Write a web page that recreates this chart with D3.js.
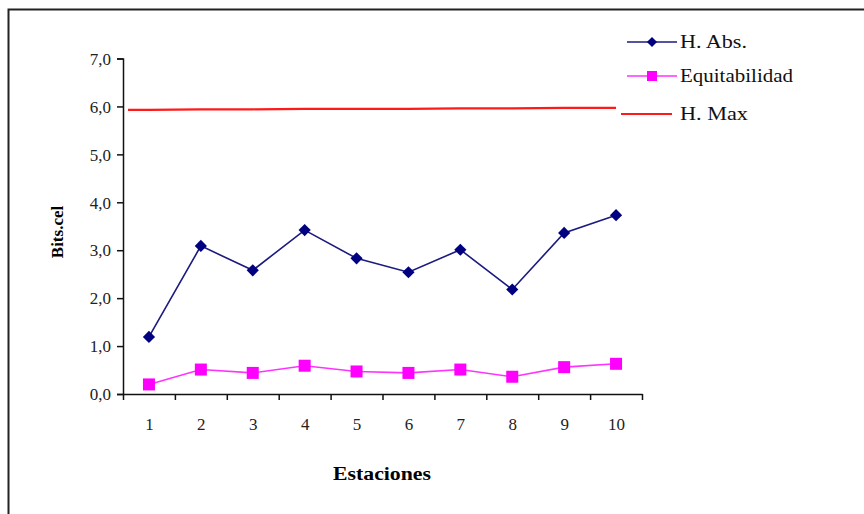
<!DOCTYPE html>
<html>
<head>
<meta charset="utf-8">
<script src="https://cdn.jsdelivr.net/npm/d3@7/dist/d3.min.js"></script>
<style>
  html, body { margin: 0; padding: 0; background: #fff; }
  svg { display: block; }
  text { font-family: "Liberation Serif", "Times New Roman", serif; }
</style>
</head>
<body>
<script>
// Stations sampled and diversity indices (bits per cell)
const stations = [1, 2, 3, 4, 5, 6, 7, 8, 9, 10];
const hAbs = [1.19, 3.09, 2.58, 3.42, 2.83, 2.54, 3.01, 2.18, 3.36, 3.73];
const equitabilidad = [0.20, 0.51, 0.44, 0.59, 0.47, 0.44, 0.51, 0.36, 0.56, 0.63];
const hMax = [5.93, 5.94, 5.94, 5.95, 5.95, 5.95, 5.96, 5.96, 5.97, 5.97];
const yTicks = [0, 1, 2, 3, 4, 5, 6, 7];
const seriesNames = ["H. Abs.", "Equitabilidad", "H. Max"];

const W = 864, H = 514;
const svg = d3.select("body").append("svg").attr("width", W).attr("height", H);

// Frame around the figure
svg.append("rect")
  .attr("x", 8.5).attr("y", 9.5)
  .attr("width", W + 10).attr("height", H + 10)
  .attr("fill", "none").attr("stroke", "#222").attr("stroke-width", 2);

const plotLeft = 123, plotRight = 642, plotTop = 58.5, plotBottom = 394;

const x = d3.scaleLinear().domain([0.5, stations.length + 0.5]).range([plotLeft, plotRight]);
const y = d3.scaleLinear().domain([0, 7]).range([plotBottom, plotTop]);

const fmt = d => d.toFixed(1).replace(".", ",");

// Y axis
const yAxis = svg.append("g")
  .attr("transform", `translate(${plotLeft},0)`)
  .call(d3.axisLeft(y).tickValues(yTicks).tickFormat(fmt).tickSize(6).tickPadding(6));
yAxis.select(".domain").attr("stroke", "#111").attr("stroke-width", 1.5);
yAxis.selectAll(".tick line").attr("stroke", "#111").attr("stroke-width", 1.5);
yAxis.selectAll("text").attr("font-size", 17).attr("fill", "#222")
  .attr("font-family", "Liberation Serif").attr("dy", "0.34em");

// X axis: boundary ticks between stations
const xAxis = svg.append("g")
  .attr("transform", `translate(0,${plotBottom})`)
  .call(d3.axisBottom(x)
    .tickValues(d3.range(0.5, stations.length + 1, 1))
    .tickFormat("").tickSize(6).tickSizeOuter(0));
xAxis.select(".domain").attr("stroke", "#111").attr("stroke-width", 1.5);
xAxis.selectAll(".tick line").attr("stroke", "#111").attr("stroke-width", 1.5);

// X axis: station labels centred in each slot
const xLabels = svg.append("g")
  .attr("transform", `translate(0,${plotBottom})`)
  .call(d3.axisBottom(x).tickValues(stations).tickFormat(d3.format("d")).tickSize(0).tickPadding(24));
xLabels.select(".domain").remove();
xLabels.selectAll("text").attr("font-size", 17).attr("fill", "#222")
  .attr("font-family", "Liberation Serif");

// Axis titles
svg.append("text")
  .attr("x", 382).attr("y", 480)
  .attr("text-anchor", "middle")
  .attr("font-size", 18).attr("font-weight", "bold")
  .attr("textLength", 98).attr("lengthAdjust", "spacingAndGlyphs")
  .text("Estaciones");

svg.append("text")
  .attr("transform", "translate(63,232) rotate(-90)")
  .attr("text-anchor", "middle")
  .attr("font-size", 17).attr("font-weight", "bold")
  .text("Bits.cel");

// H. Max reference line
const hMaxLine = d3.line()
  .x((d, i) => i === 0 ? plotLeft + 5 : x(stations[i - 1]))
  .y(d => y(d));
const hMaxPts = [hMax[0]].concat(hMax);
svg.append("path")
  .datum(hMaxPts)
  .attr("d", hMaxLine)
  .attr("fill", "none").attr("stroke", "#ff1a1a").attr("stroke-width", 2.2);

const line = d3.line().x((d, i) => x(stations[i])).y(d => y(d));

// Equitabilidad series
svg.append("path")
  .datum(equitabilidad)
  .attr("d", line)
  .attr("fill", "none").attr("stroke", "#ff33ff").attr("stroke-width", 1.6);
svg.selectAll(".sq")
  .data(equitabilidad)
  .enter().append("rect")
  .attr("x", (d, i) => x(stations[i]) - 6)
  .attr("y", d => y(d) - 6)
  .attr("width", 12).attr("height", 12)
  .attr("fill", "#ff00ff");

// H. Abs. series
svg.append("path")
  .datum(hAbs)
  .attr("d", line)
  .attr("fill", "none").attr("stroke", "#1a1a80").attr("stroke-width", 1.6);
const diamond = d3.symbol().type(d3.symbolDiamond2).size(95);
svg.selectAll(".dm")
  .data(hAbs)
  .enter().append("path")
  .attr("d", diamond)
  .attr("transform", (d, i) => `translate(${x(stations[i])},${y(d)})`)
  .attr("fill", "#000080");

// Legend
const legendY = [42, 76, 114];
const lg = svg.append("g");
// H. Abs.
lg.append("line").attr("x1", 627).attr("x2", 677).attr("y1", legendY[0]).attr("y2", legendY[0])
  .attr("stroke", "#1a1a80").attr("stroke-width", 1.6);
lg.append("path").attr("d", d3.symbol().type(d3.symbolDiamond2).size(65))
  .attr("transform", `translate(652,${legendY[0]})`).attr("fill", "#000080");
// Equitabilidad
lg.append("line").attr("x1", 627).attr("x2", 677).attr("y1", legendY[1]).attr("y2", legendY[1])
  .attr("stroke", "#ff33ff").attr("stroke-width", 1.6);
lg.append("rect").attr("x", 647).attr("y", legendY[1] - 5).attr("width", 10).attr("height", 10)
  .attr("fill", "#ff00ff");
// H. Max
lg.append("line").attr("x1", 621).attr("x2", 672).attr("y1", legendY[2]).attr("y2", legendY[2])
  .attr("stroke", "#ff1a1a").attr("stroke-width", 2.2);

const legendWidths = [67, 113, 68];
lg.selectAll(".lt")
  .data(seriesNames)
  .enter().append("text")
  .attr("x", 680)
  .attr("y", (d, i) => legendY[i])
  .attr("dy", "0.35em")
  .attr("font-size", 18)
  .attr("fill", "#111")
  .attr("textLength", (d, i) => legendWidths[i])
  .attr("lengthAdjust", "spacingAndGlyphs")
  .text(d => d);
</script>
</body>
</html>
